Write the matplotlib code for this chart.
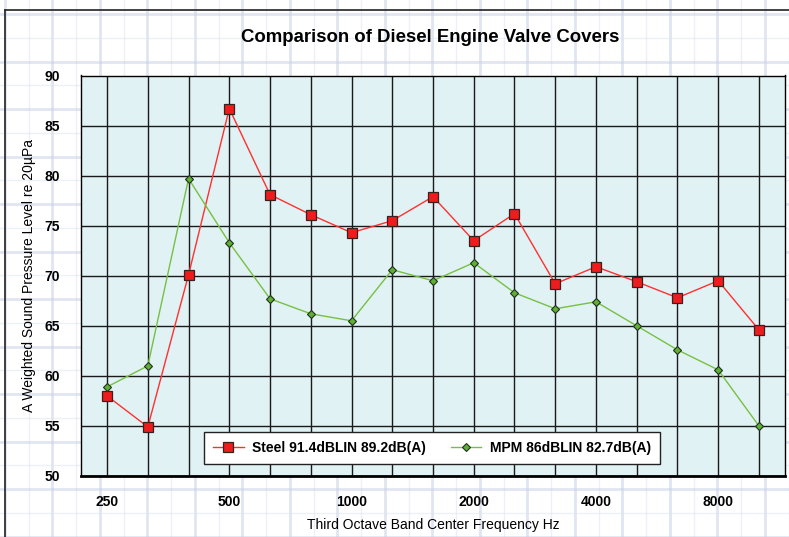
import matplotlib
matplotlib.use("Agg")
import matplotlib.pyplot as plt
import numpy as np

plt.rcParams["font.family"] = ["Liberation Sans", "DejaVu Sans"]

bandas = ["250", "315", "400", "500", "630", "800", "1000", "1250", "1600",
          "2000", "2500", "3150", "4000", "5000", "6300", "8000", "10000"]
aco = [58.0, 54.9, 70.1, 86.7, 78.1, 76.1, 74.3, 75.5, 77.9,
       73.5, 76.2, 69.2, 70.9, 69.4, 67.8, 69.5, 64.6]
mpm = [58.9, 61.0, 79.7, 73.3, 67.7, 66.2, 65.5, 70.6, 69.5,
       71.3, 68.3, 66.7, 67.4, 65.0, 62.6, 60.6, 55.0]
rotulos_x = ["250", "500", "1000", "2000", "4000", "8000"]
rotulos_y = [50, 55, 60, 65, 70, 75, 80, 85, 90]

fig = plt.figure(figsize=(7.89, 5.37), dpi=100)
fig.patch.set_facecolor("white")

# fundo tipo papel milimetrado
fundo = fig.add_axes([0, 0, 1, 1], zorder=-10)
fundo.set_xlim(0, 789)
fundo.set_ylim(537, 0)
fundo.axis("off")
for gx in np.arange(5, 789, 47.5):
    fundo.axvline(gx, color="#c9d1e6", lw=2.0, alpha=0.55)
for gx in np.arange(28.75, 789, 47.5):
    fundo.axvline(gx, color="#dfe4f0", lw=1.0, alpha=0.55)
for gy in np.arange(14, 537, 47.5):
    fundo.axhline(gy, color="#c9d1e6", lw=2.0, alpha=0.55)
for gy in np.arange(37.75, 537, 47.5):
    fundo.axhline(gy, color="#dfe4f0", lw=1.0, alpha=0.55)
fundo.plot([5, 5], [537, 10], color="#222222", lw=1.2)
fundo.plot([5, 789], [10, 10], color="#222222", lw=1.2)

ax = fig.add_axes([81 / 789, 61 / 537, 704 / 789, 400.5 / 537])
ax.set_facecolor("#e0f2f4")

x = np.arange(len(bandas))
ax.plot(x, aco, color="#ff3030", lw=1.0, marker="s", markersize=6.5,
        markerfacecolor="#ee1c1c", markeredgecolor="#3a2020", markeredgewidth=0.9,
        label="Steel 91.4dBLIN 89.2dB(A)", zorder=3)
ax.plot(x, mpm, color="#77c043", lw=1.0, marker="D", markersize=3.6,
        markerfacecolor="#5fb030", markeredgecolor="#203020", markeredgewidth=0.8,
        label="MPM 86dBLIN 82.7dB(A)", zorder=3)

ax.set_xlim(-0.64, 16.64)
ax.set_ylim(50, 90)
ax.set_xticks(x)
ax.set_xticklabels([b if b in rotulos_x else "" for b in bandas],
                   fontsize=10, fontweight="bold")
ax.set_yticks(rotulos_y)
ax.set_yticklabels([str(v) for v in rotulos_y], fontsize=10, fontweight="bold")
ax.tick_params(length=0, pad=14)
ax.tick_params(axis="y", pad=15)
ax.grid(True, color="#1a1a1a", lw=1.0)
ax.set_axisbelow(True)
for s in ["top", "left", "right"]:
    ax.spines[s].set_linewidth(1.0)
ax.spines["bottom"].set_linewidth(2.0)

ax.set_xlabel("Third Octave Band Center Frequency Hz", fontsize=10, labelpad=6)
ax.set_ylabel("A Weighted Sound Pressure Level re 20µPa", fontsize=10, labelpad=6)
fig.text(430 / 789, 1 - 38 / 537, "Comparison of Diesel Engine Valve Covers",
         ha="center", va="center", fontsize=13.4, fontweight="bold")

leg = ax.legend(loc="lower left", bbox_to_anchor=((204 - 81) / 704, (476 - 464) / 400.5),
                borderaxespad=0, ncol=2, frameon=True, fancybox=False,
                prop={"weight": "bold", "size": 10}, columnspacing=1.8,
                handlelength=2.2, borderpad=0.65, handletextpad=0.6)
leg.get_frame().set_edgecolor("#222222")
leg.get_frame().set_facecolor("white")
leg.get_frame().set_alpha(1)

fig.savefig("out.png", dpi=100)
